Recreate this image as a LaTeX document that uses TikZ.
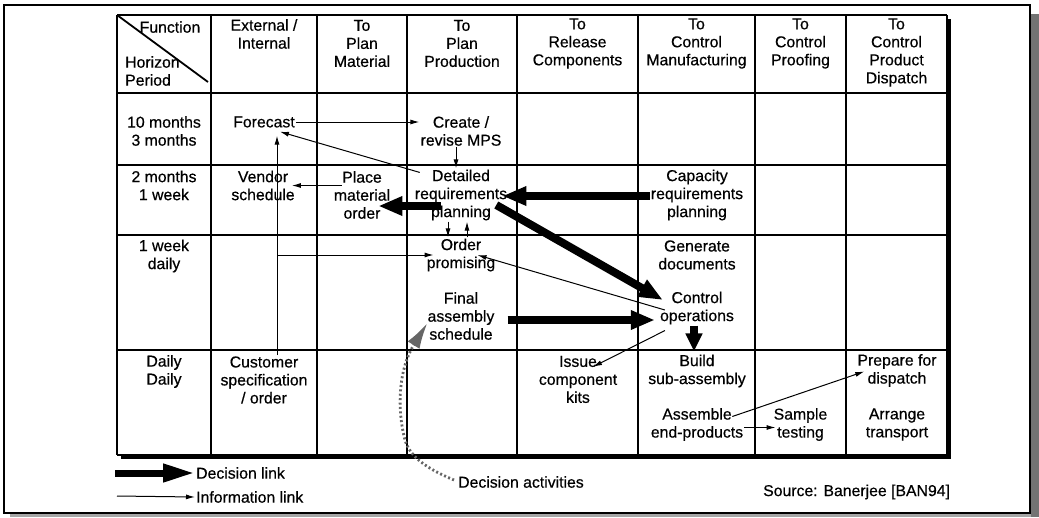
\documentclass[tikz,border=0pt]{standalone}
\usepackage{fontspec}
\setmainfont{Liberation Sans}
\newfontfamily\diafam{Liberation Sans}[FakeBold=0.5]
\usetikzlibrary{arrows.meta,calc}
\newcommand\diafont{\diafam\fontsize{15.8}{18}\selectfont}
\begin{document}
\begin{tikzpicture}[x=1pt,y=-1pt,
  lbl/.style={align=center,inner sep=1pt,font=\diafont},
  grid/.style={line width=1.6pt},
  info/.style={line width=1pt,-{Latex[length=9pt,width=5pt]}},
  decision/.style={line width=8pt,-{Triangle[length=24pt,width=18pt]}},
  activity/.style={black!60,line width=2.8pt,dash pattern=on 2pt off 2.4pt,
    -{Latex[length=26pt,width=14pt]}}
]
\useasboundingbox (0,0) rectangle (1039,517);

% page frame and scanned edge
\draw[line width=1.4pt] (4,5) rectangle (1030,513);
\fill[black!55] (1031,14) rectangle (1039,517);
\fill[black!35] (10,514) rectangle (1031,517);

% table with drop shadow
\fill (121,19) rectangle (951,459);
\fill[white] (117,15) rectangle (947,455);
\foreach \y in {15,93,165,235,350,455}
  \draw[grid] (117,\y) -- (947,\y);
\foreach \x in {117,211,317,407,517,638,755,846,947}
  \draw[grid] (\x,15) -- (\x,455);
\draw[line width=1.8pt] (117,15) -- (208,82);

% header
\node[lbl] (hfun) at (170,27) {Function};
\node[lbl,align=left,anchor=west] (hhor) at (124,71) {Horizon\\Period};
\node[lbl] (hext) at (264,34) {External /\\Internal};
\node[lbl] (hmat) at (362,43.5) {To\\Plan\\Material};
\node[lbl] (hprod) at (462,43.5) {To\\Plan\\Production};
\node[lbl] (hrel) at (577.5,43.5) {To\\Release\\Components};
\node[lbl] (hman) at (696.5,43.5) {To\\Control\\Manufacturing};
\node[lbl] (hproof) at (800.5,43.5) {To\\Control\\Proofing};
\node[lbl] (hdisp) at (896.5,52.5) {To\\Control\\Product\\Dispatch};

% horizon / period column
\node[lbl] (p1) at (164,131) {10 months\\3 months};
\node[lbl] (p2) at (164,185.5) {2 months\\1 week};
\node[lbl] (p3) at (164,256) {1 week\\daily};
\node[lbl] (p4) at (164,371.5) {Daily\\Daily};

% activities
\node[lbl] (fc) at (264,122) {Forecast};
\node[lbl] (mps) at (461,131) {Create /\\revise MPS};
\node[lbl] (vs) at (263,185.5) {Vendor\\schedule};
\node[lbl] (pm) at (362,195) {Place\\material\\order};
\node[lbl] (dr) at (461,195) {Detailed\\requirements\\planning};
\node[lbl] (cr) at (697,195) {Capacity\\requirements\\planning};
\node[lbl] (op) at (461,255) {Order\\promising};
\node[lbl] (fa) at (461,316) {Final\\assembly\\schedule};
\node[lbl] (gd) at (697,255) {Generate\\documents};
\node[lbl] (co) at (697,308) {Control\\operations};
\node[lbl] (cs) at (264,380) {Customer\\specification\\/ order};
\node[lbl] (ick) at (578,379.5) {Issue\\component\\kits};
\node[lbl] (bs) at (697,371) {Build\\sub-assembly};
\node[lbl] (ae) at (697,424.5) {Assemble\\end-products};
\node[lbl] (st) at (800.5,424.5) {Sample\\testing};
\node[lbl] (pd) at (897,370.5) {Prepare for\\dispatch};
\node[lbl] (tr) at (897,424.5) {Arrange\\transport};

% legend and source
\node[lbl,anchor=west] (dl) at (195,473) {Decision link};
\node[lbl,anchor=west] (il) at (195,497) {Information link};
\node[lbl,anchor=west] (da) at (457,482) {Decision activities};
\node[lbl,anchor=west] (src) at (762,492) {Source: Banerjee [BAN94]};

% information links
\draw[info] (fc.east) -- (fc.east -| mps.west);
\draw[info] ($(dr.north west)+(6,4)$) -- ($(fc.south east)+(-16,3)$);
\draw[info] ($(mps.south)+(-5,0)$) -- ($(dr.north)+(-5,0)$);
\draw[info] ($(cs.north)+(13,0)$) -- ($(fc.south)+(13,7)$);
\draw[info] ($(cs.north |- op.west)+(13,0)$) -- ($(op.west)+(8,0)$);
\draw[info] ($(pm.west |- vs.east)+(9,0)$) -- ($(vs.east)+(-4,0)$);
\draw[info] ($(dr.south)+(-13,0)$) -- ($(op.north)+(-13,0)$);
\draw[info] ($(op.north)+(6,0)$) -- ($(dr.south)+(6,0)$);
\draw[info] ($(co.west)+(6,2)$) -- ($(op.east)+(-19,0)$);
\draw[info] ($(co.south west)+(6,5)$) -- ($(ick.north)+(15,12)$);
\draw[info] ($(ae.east)+(-12,-8)$) -- ($(pd.west)+(8,1)$);
\draw[info] ($(ae.east)+(0,3)$) -- ($(st.west)+(3,3)$);

% decision links
\draw[decision] ($(dr.west)+(27,11)$) -- ($(pm.east)+(-13,11)$);
\draw[decision] ($(cr.west)+(0,1)$) -- ($(dr.east)+(-6,1)$);
\draw[decision] ($(dr.east)+(-12,10)$) -- ($(co.west)+(4,-8)$);
\draw[decision] ($(fa.east)+(12,4)$) -- ($(co.west)+(-4,12)$);
\draw[decision,-{Triangle[length=18pt,width=16pt]}] ($(co.south)+(-3,0)$) -- ($(bs.north)+(-3,-2)$);

% decision activities marker
\draw[activity] ($(da.west)+(-3,-2)$) .. controls (430,470) and (410,458) .. (405,440)
  .. controls (397,410) and (398,370) .. ($(fa.west)+(1,7)$);

% legend arrows
\coordinate (dls) at (115,473);
\coordinate (ils) at (117,496);
\draw[decision,line width=7pt,-{Triangle[length=32pt,width=17pt]}] (dls) -- (dl.west);
\draw[info] (ils) -- (il.west);
\end{tikzpicture}
\end{document}
